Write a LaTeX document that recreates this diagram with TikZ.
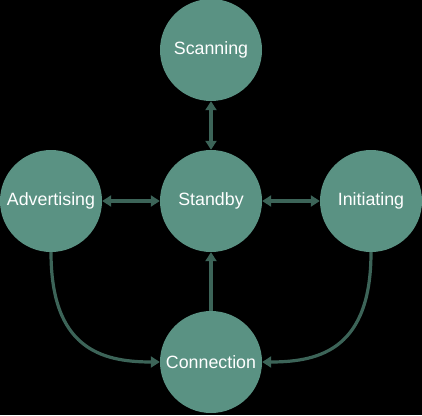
\documentclass[tikz,border=0pt]{standalone}
\usepackage{fontspec}
\setmainfont{Liberation Sans}
\usetikzlibrary{arrows.meta}
\definecolor{circfill}{HTML}{5A9283}
\definecolor{arrowc}{HTML}{3C6458}
\begin{document}
\begin{tikzpicture}[x=1pt,y=-1pt,
  state/.style={circle,fill=circfill,minimum size=102pt,inner sep=0pt,text=white,font=\fontsize{17.8}{20}\selectfont},
  conn/.style={draw=arrowc,line width=3.2pt,-{Triangle[length=9pt,width=11pt]}},
  dconn/.style={draw=arrowc,line width=3.2pt,{Triangle[length=9pt,width=11pt]}-{Triangle[length=9pt,width=11pt]}}]
\fill[black] (0,0) rectangle (422,415);
\useasboundingbox (0,0) rectangle (422,415);
\node[state] (scan) at (211,50) {Scanning};
\node[state] (stand) at (211,201) {Standby};
\node[state] (adv) at (51,201) {Advertising};
\node[state] (init) at (371,201) {Initiating};
\node[state] (conn) at (211,362) {Connection};
\draw[dconn] (scan) -- (stand);
\draw[dconn] (adv) -- (stand);
\draw[dconn] (stand) -- (init);
\draw[conn] (conn) -- (stand);
\draw[conn] (adv.south) .. controls ++(0,95) and ++(-60,0) .. (conn.west);
\draw[conn] (init.south) .. controls ++(0,95) and ++(60,0) .. (conn.east);
\end{tikzpicture}
\end{document}
